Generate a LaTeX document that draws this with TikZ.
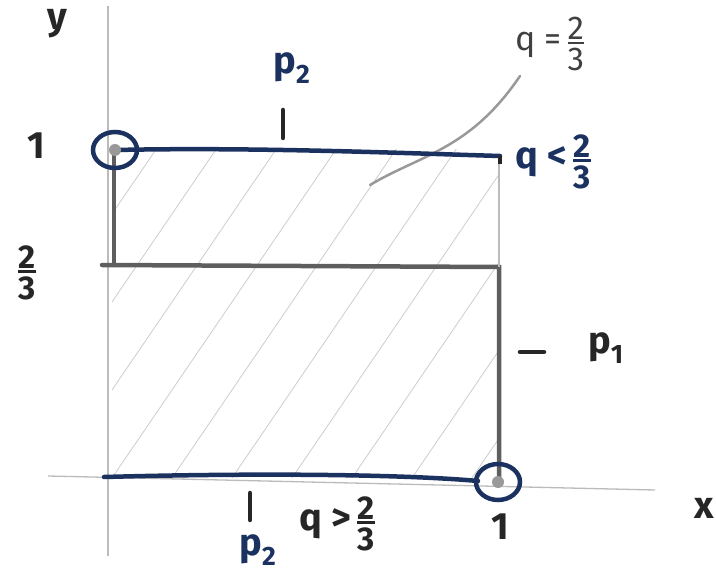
\documentclass[tikz,border=0pt]{standalone}
\usepackage{fontspec}
\setmainfont{Fira Sans}
\usetikzlibrary{calc,shapes.geometric}
\definecolor{ink}{HTML}{1B3260}
\definecolor{pencil}{HTML}{5E5E5E}
\definecolor{faint}{HTML}{BBBBBB}
\newcommand{\stackfrac}[2]{{\fontsize{33}{33}\selectfont\ensuremath{\vcenter{\hbox{\vbox{\halign{\hfil##\hfil\cr #1\cr\noalign{\kern2pt\hrule height 2.5pt\kern4pt}#2\cr}}}}}}}
\tikzset{
  axisline/.style={draw=faint, line width=1.3pt},
  hatchline/.style={draw=faint!75, line width=0.8pt},
  pencilline/.style={draw=pencil, line width=4.5pt, line cap=round},
  inkline/.style={draw=ink, line width=4.5pt, line cap=round},
  inkcircle/.style={draw=ink, line width=4.5pt, ellipse, minimum width=44pt, minimum height=36pt, inner sep=0pt},
  inklabel/.style={text=ink, font=\bfseries\fontsize{38}{40}\selectfont},
  darklabel/.style={text=black!85, font=\bfseries\fontsize{38}{40}\selectfont},
  graylabel/.style={text=black!75, font=\fontsize{34}{36}\selectfont},
  tickmark/.style={draw=black!85, line width=4.5pt, line cap=round}
}
\begin{document}
\begin{tikzpicture}[x=1pt,y=-1pt]
\useasboundingbox (0,0) rectangle (716,580);
% axes
\coordinate (ytop) at (108,6);
\coordinate (ybot) at (108,556);
\coordinate (xl) at (48,476);
\coordinate (xr) at (655,490);
\draw[axisline] (ytop) -- (ybot);
\draw[axisline] (xl) -- (xr);
\node[darklabel] (ylab) at (57,24) {y};
\node[darklabel] (xlab) at (704,508) {x};
% hatching
\begin{scope}
\clip (112,150) rectangle (498,478);
\foreach \s in {-300,-240,...,500}
  \draw[hatchline] (112+\s,478) -- ++(300,-440);
\end{scope}
% pencil boundary
\coordinate (a1) at (114,152);
\coordinate (a2) at (114,265);
\coordinate (a0) at (102,265);
\coordinate (a3) at (499,267);
\coordinate (a4) at (499,478);
\coordinate (a5) at (499,160);
\draw[pencilline] (a1) -- (a2);
\draw[pencilline] (a0) -- (a3) -- (a4);
\draw[draw=faint, line width=2pt] (a5) -- (a3);
% q = 2/3 line
\coordinate (qa) at (370,185);
\coordinate (qb) at (520,76);
\draw[draw=black!40, line width=2.5pt, line cap=round] (qa) .. controls (420,155) and (470,150) .. (qb);
% blue p2 lines
\coordinate (t1) at (116,150);
\coordinate (t2) at (500,156);
\coordinate (t3) at (500,164);
\draw[inkline] (t1) .. controls (250,147) and (400,153) .. (t2);
\draw[line width=4.5pt, draw=black!85] (t2) -- (t3);
\node[inkcircle] (c1) at (115,150) {};
\fill[black!40] (c1.center) circle (6pt);
\coordinate (b1) at (104,477);
\coordinate (b2) at (478,481);
\draw[inkline] (b1) .. controls (250,473) and (400,474) .. (b2);
\node[inkcircle] (c2) at (498,482) {};
\fill[black!40] (c2.center) circle (6pt);
% labels
\node[darklabel] (one_y) at (36,146) {1};
\node[darklabel] (twothirds_y) at (27,273) {\stackfrac{2}{3}};
\node[inklabel] (p2top) at (292,68) {p\textsubscript{2}};
\coordinate (tk1) at (283,110);
\coordinate (tk2) at (283,138);
\draw[tickmark] (tk1) -- (tk2);
\node[inklabel, anchor=west] (qlt) at (512,162) {q <\,\stackfrac{2}{3}};
\node[graylabel, anchor=west] (qeq) at (512,44) {q =\,\stackfrac{2}{3}};
\coordinate (p1d1) at (520,352);
\coordinate (p1d2) at (544,352);
\draw[tickmark] (p1d1) -- (p1d2);
\node[darklabel] (p1) at (606,348) {p\textsubscript{1}};
\coordinate (tk3) at (250,493);
\coordinate (tk4) at (250,520);
\draw[tickmark] (tk3) -- (tk4);
\node[inklabel] (p2bot) at (258,550) {p\textsubscript{2}};
\node[darklabel, anchor=west] (qgt) at (296,524) {q >\,\stackfrac{2}{3}};
\node[darklabel] (one_x) at (500,527) {1};
\end{tikzpicture}
\end{document}
